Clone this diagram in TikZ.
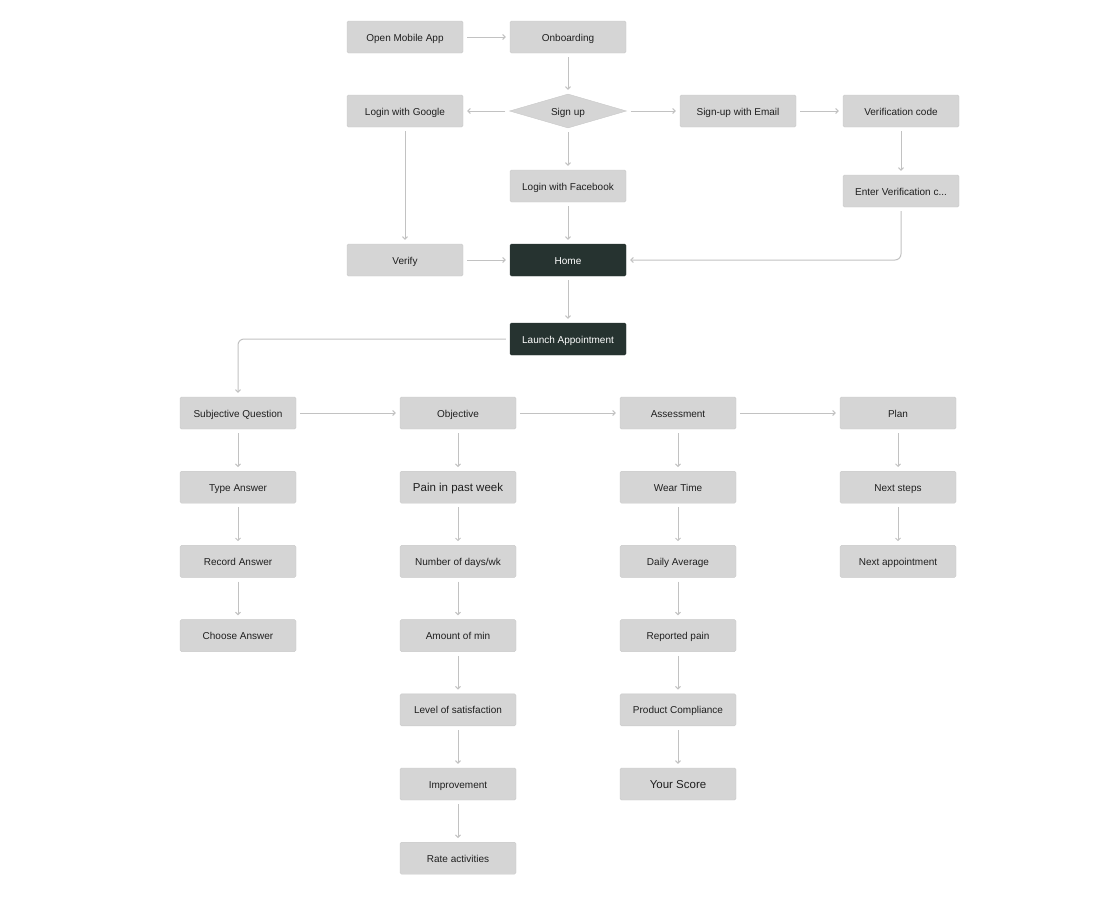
\documentclass[tikz,border=0pt]{standalone}
\usepackage{fontspec}
\setmainfont{Liberation Sans}
\usetikzlibrary{arrows.meta,shapes.geometric}
\definecolor{myboxgray}{rgb}{0.835,0.835,0.835}
\definecolor{myrimgray}{rgb}{0.79,0.79,0.79}
\definecolor{mylinegray}{rgb}{0.76,0.76,0.76}
\definecolor{mydark}{rgb}{0.15,0.20,0.19}
\definecolor{mytext}{rgb}{0.12,0.12,0.12}
\newcommand{\bigtext}{\fontsize{11.5}{13}\selectfont}
\tikzset{
  stepbox/.style={draw=myrimgray,fill=myboxgray,rounded corners=1.5pt,
    minimum width=116pt,minimum height=32pt,inner sep=0pt,
    text height=9pt,text depth=1pt,
    font=\fontsize{10}{12}\selectfont,text=mytext},
  darkbox/.style={stepbox,draw=mydark,fill=mydark,text=white},
  choice/.style={diamond,draw=myrimgray,fill=myboxgray,aspect=3.5,
    minimum width=117pt,minimum height=34pt,inner sep=0pt,
    text height=9pt,text depth=1pt,
    font=\fontsize{10}{12}\selectfont,text=mytext},
  flow/.style={draw=mylinegray,line width=1pt,
    -{Straight Barb[length=2.5pt,width=5pt]},shorten <=4pt,shorten >=4pt}
}
\begin{document}
\begin{tikzpicture}[x=1pt,y=-1pt]
  \useasboundingbox (0,0) rectangle (1120,900);
  % sign-in part
  \node[stepbox] (open)     at (405,37)  {Open Mobile App};
  \node[stepbox] (onboard)  at (568,37)  {Onboarding};
  \node[choice]  (signup)   at (568,111) {Sign up};
  \node[stepbox] (google)   at (405,111) {Login with Google};
  \node[stepbox] (email)    at (738,111) {Sign-up with Email};
  \node[stepbox] (vcode)    at (901,111) {Verification code};
  \node[stepbox] (facebook) at (568,186) {Login with Facebook};
  \node[stepbox] (enter)    at (901,191) {Enter Verification c...};
  \node[stepbox] (verify)   at (405,260) {Verify};
  \node[darkbox] (home)     at (568,260) {Home};
  \node[darkbox] (launch)   at (568,339) {Launch Appointment};
  \draw[flow] (open) -- (onboard);
  \draw[flow] (onboard) -- (signup);
  \draw[flow] (signup) -- (google);
  \draw[flow] (signup) -- (email);
  \draw[flow] (signup) -- (facebook);
  \draw[flow] (email) -- (vcode);
  \draw[flow] (vcode) -- (enter);
  \draw[flow] (google) -- (verify);
  \draw[flow] (facebook) -- (home);
  \draw[flow] (verify) -- (home);
  \draw[flow,rounded corners=6pt] (enter.south) |- (home.east);
  \draw[flow] (home) -- (launch);
  % appointment part
  \node[stepbox] (subj)   at (238,413) {Subjective Question};
  \node[stepbox] (obj)    at (458,413) {Objective};
  \node[stepbox] (assess) at (678,413) {Assessment};
  \node[stepbox] (plan)   at (898,413) {Plan};
  \draw[flow,rounded corners=6pt] (launch.west) -| (subj.north);
  \draw[flow] (subj) -- (obj);
  \draw[flow] (obj) -- (assess);
  \draw[flow] (assess) -- (plan);
  \foreach \tl [count=\i] in {Type Answer,Record Answer,Choose Answer}
    \node[stepbox] (subj\i) at (238,{413+74.2*\i}) {\tl};
  \foreach \tl [count=\i] in {{\bigtext Pain in past week},Number of days/wk,
      Amount of min,Level of satisfaction,Improvement,Rate activities}
    \node[stepbox] (obj\i) at (458,{413+74.2*\i}) {\tl};
  \foreach \tl [count=\i] in {Wear Time,Daily Average,Reported pain,
      Product Compliance,{\bigtext Your Score}}
    \node[stepbox] (assess\i) at (678,{413+74.2*\i}) {\tl};
  \foreach \tl [count=\i] in {Next steps,Next appointment}
    \node[stepbox] (plan\i) at (898,{413+74.2*\i}) {\tl};
  \foreach \a/\b in {subj/subj1,subj1/subj2,subj2/subj3,
      obj/obj1,obj1/obj2,obj2/obj3,obj3/obj4,obj4/obj5,obj5/obj6,
      assess/assess1,assess1/assess2,assess2/assess3,assess3/assess4,assess4/assess5,
      plan/plan1,plan1/plan2}
    \draw[flow] (\a) -- (\b);
\end{tikzpicture}
\end{document}
